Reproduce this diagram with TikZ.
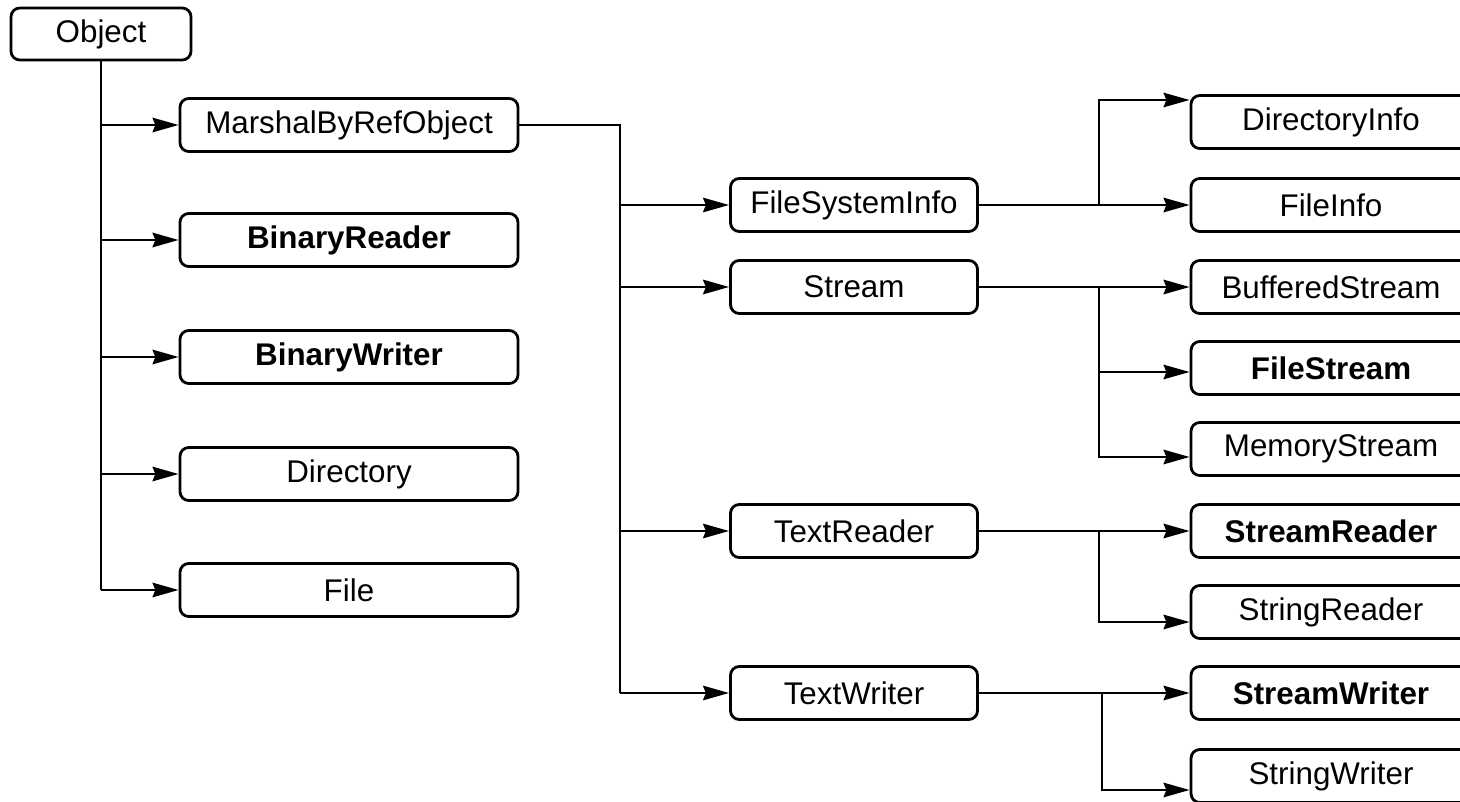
\documentclass[tikz,border=0pt]{standalone}
\usepackage{fontspec}
\setmainfont{Liberation Sans}
\usetikzlibrary{arrows.meta,positioning,calc}

\begin{document}
\begin{tikzpicture}[x=0.25mm,y=-0.25mm,line width=0.7mm,
    >={Stealth[length=6.5mm,width=3.6mm,inset=0.7mm]},
    cls/.style={draw,rounded corners=2.2mm,inner sep=0pt,minimum height=13.25mm,
        font=\fontsize{22.3}{26}\selectfont},
    key/.style={font=\fontsize{22.3}{26}\selectfont\bfseries},
    root/.style={cls,minimum width=45mm,minimum height=13mm},
    base/.style={cls,minimum width=84.5mm},
    mid/.style={cls,minimum width=61.75mm},
    leaf/.style={cls,minimum width=70mm}]
\useasboundingbox (0,0) rectangle (1460,802);
\node[root] (obj) at (101,34) {Object};
\node[base] (mbr) at (349,125) {MarshalByRefObject};
\node[base,key] (brd) at (349,240) {BinaryReader};
\node[base,key] (bwr) at (349,357) {BinaryWriter};
\node[base] (dir) at (349,474) {Directory};
\node[base] (file) at (349,590) {File};
\node[mid] (fsi) at (854,205) {FileSystemInfo};
\node[mid] (strm) at (854,287) {Stream};
\node[mid] (trd) at (854,531) {TextReader};
\node[mid] (twr) at (854,693) {TextWriter};
\node[leaf] (dinfo) at (1331,122) {DirectoryInfo};
\node[leaf] (finfo) at (1331,205) {FileInfo};
\node[leaf] (bstrm) at (1331,287) {BufferedStream};
\node[leaf,key] (fstrm) at (1331,368) {FileStream};
\node[leaf] (mstrm) at (1331,449) {MemoryStream};
\node[leaf,key] (srd) at (1331,531) {StreamReader};
\node[leaf] (strd) at (1331,612) {StringReader};
\node[leaf,key] (swr) at (1331,693) {StreamWriter};
\node[leaf] (strw) at (1331,776) {StringWriter};
\coordinate (j1) at (620,0);
\coordinate (j2) at (1099,100);
\coordinate (j3) at (1099,372);
\coordinate (j4) at (1099,457);
\coordinate (j5) at (1099,622);
\coordinate (j6) at (1102,790);
\draw (obj.south) -- (obj.south |- file.west);
\foreach \n in {mbr,brd,bwr,dir,file}
    \draw[->] (obj.south |- \n.west) -- (\n.west);
\draw (mbr.east) -- (mbr.east -| j1) -- (j1 |- twr.west);
\foreach \n in {fsi,strm,trd,twr}
    \draw[->] (j1 |- \n.west) -- (\n.west);
\draw[->] (fsi.east) -- (finfo.west);
\draw[->] (fsi.east -| j2) -- (j2) -- (j2 -| dinfo.west);
\draw[->] (strm.east) -- (bstrm.west);
\draw[->] (strm.east -| j3) -- (j4) -- (j4 -| mstrm.west);
\draw[->] (j3) -- (j3 -| fstrm.west);
\draw[->] (trd.east) -- (srd.west);
\draw[->] (trd.east -| j5) -- (j5) -- (j5 -| strd.west);
\draw[->] (twr.east) -- (swr.west);
\draw[->] (twr.east -| j6) -- (j6) -- (j6 -| strw.west);
\end{tikzpicture}
\end{document}
